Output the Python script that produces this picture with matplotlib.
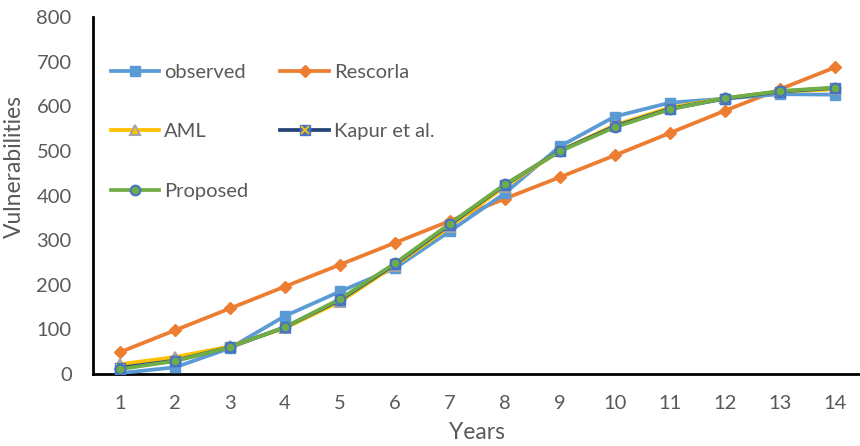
import matplotlib.pyplot as plt

# Values
years = list(range(1, 15))
observed = [2, 15, 58, 130, 185, 237, 320, 405, 510, 577, 608, 617, 627, 626]
rescorla = [49, 98, 147, 196, 245, 294, 343, 393, 441, 490, 540, 590, 638, 687]
aml = [22, 38, 62, 103, 162, 243, 330, 420, 500, 558, 597, 618, 633, 638]
kapur = [14, 30, 60, 105, 166, 246, 335, 424, 500, 555, 594, 617, 633, 641]
proposed = [11, 29, 60, 105, 168, 248, 337, 425, 499, 553, 593, 618, 634, 642]

plt.rcParams['font.family'] = ['Lato', 'DejaVu Sans']
grey = '#595959'
fs = 14.5

fig = plt.figure(figsize=(8.6, 4.46), dpi=100)
ax = fig.add_axes([0.1076, 0.1614, 0.895, 0.8005])

lw = 2.7
h_obs, = ax.plot(years, observed, color='#5B9BD5', lw=lw, marker='s', ms=7,
                 mfc='#5B9BD5', mec='#5B9BD5', label='observed', zorder=3)
h_res, = ax.plot(years, rescorla, color='#ED7D31', lw=lw, marker='D', ms=6,
                 mfc='#ED7D31', mec='#ED7D31', label='Rescorla', zorder=2)
h_aml, = ax.plot(years, aml, color='#FFC000', lw=lw, marker='^', ms=7,
                 mfc='#FFC000', mec='#A5A5A5', mew=1.5, label='AML', zorder=4)
h_kap, = ax.plot(years, kapur, color='#264478', lw=lw, marker='s', ms=7,
                 mfc='#4472C4', mec='#4472C4', label='Kapur et al.', zorder=5)
h_kapx, = ax.plot(years, kapur, ls='none', marker='x', ms=6, mec='#FFC000',
                  mew=1.3, zorder=5)
h_pro, = ax.plot(years, proposed, color='#70AD47', lw=lw, marker='o', ms=7,
                 mfc='#70AD47', mec='#4472C4', mew=1.5, label='Proposed', zorder=6)

ax.set_xlim(0.5, 14.5)
ax.set_ylim(0, 800)
ax.set_xticks(years)
ax.set_yticks(range(0, 801, 100))

for side in ['top', 'right']:
    ax.spines[side].set_visible(False)
for side in ['left', 'bottom']:
    ax.spines[side].set_linewidth(2)
    ax.spines[side].set_color('black')

ax.tick_params(axis='both', length=0, labelsize=fs, colors=grey)
ax.tick_params(axis='x', pad=15)
ax.tick_params(axis='y', pad=15)

ax.set_xlabel('Years', fontsize=16.5, color=grey, va='center')
ax.set_ylabel('Vulnerabilities', fontsize=16.5, color=grey, va='center')
ax.xaxis.set_label_coords(0.5, -0.165)
ax.yaxis.set_label_coords(-0.101, 0.58)

handles = [h_obs, h_aml, h_pro, h_res, (h_kap, h_kapx)]
labels = ['observed', 'AML', 'Proposed', 'Rescorla', 'Kapur et al.']
ax.legend(handles=handles, labels=labels,
          ncol=2, frameon=False, loc='upper left',
          bbox_to_anchor=(0.0, 0.92), fontsize=fs, labelcolor=grey,
          handlelength=2.4, handletextpad=0.25, labelspacing=2.1,
          columnspacing=1.6)

fig.savefig('out.png', dpi=100)
